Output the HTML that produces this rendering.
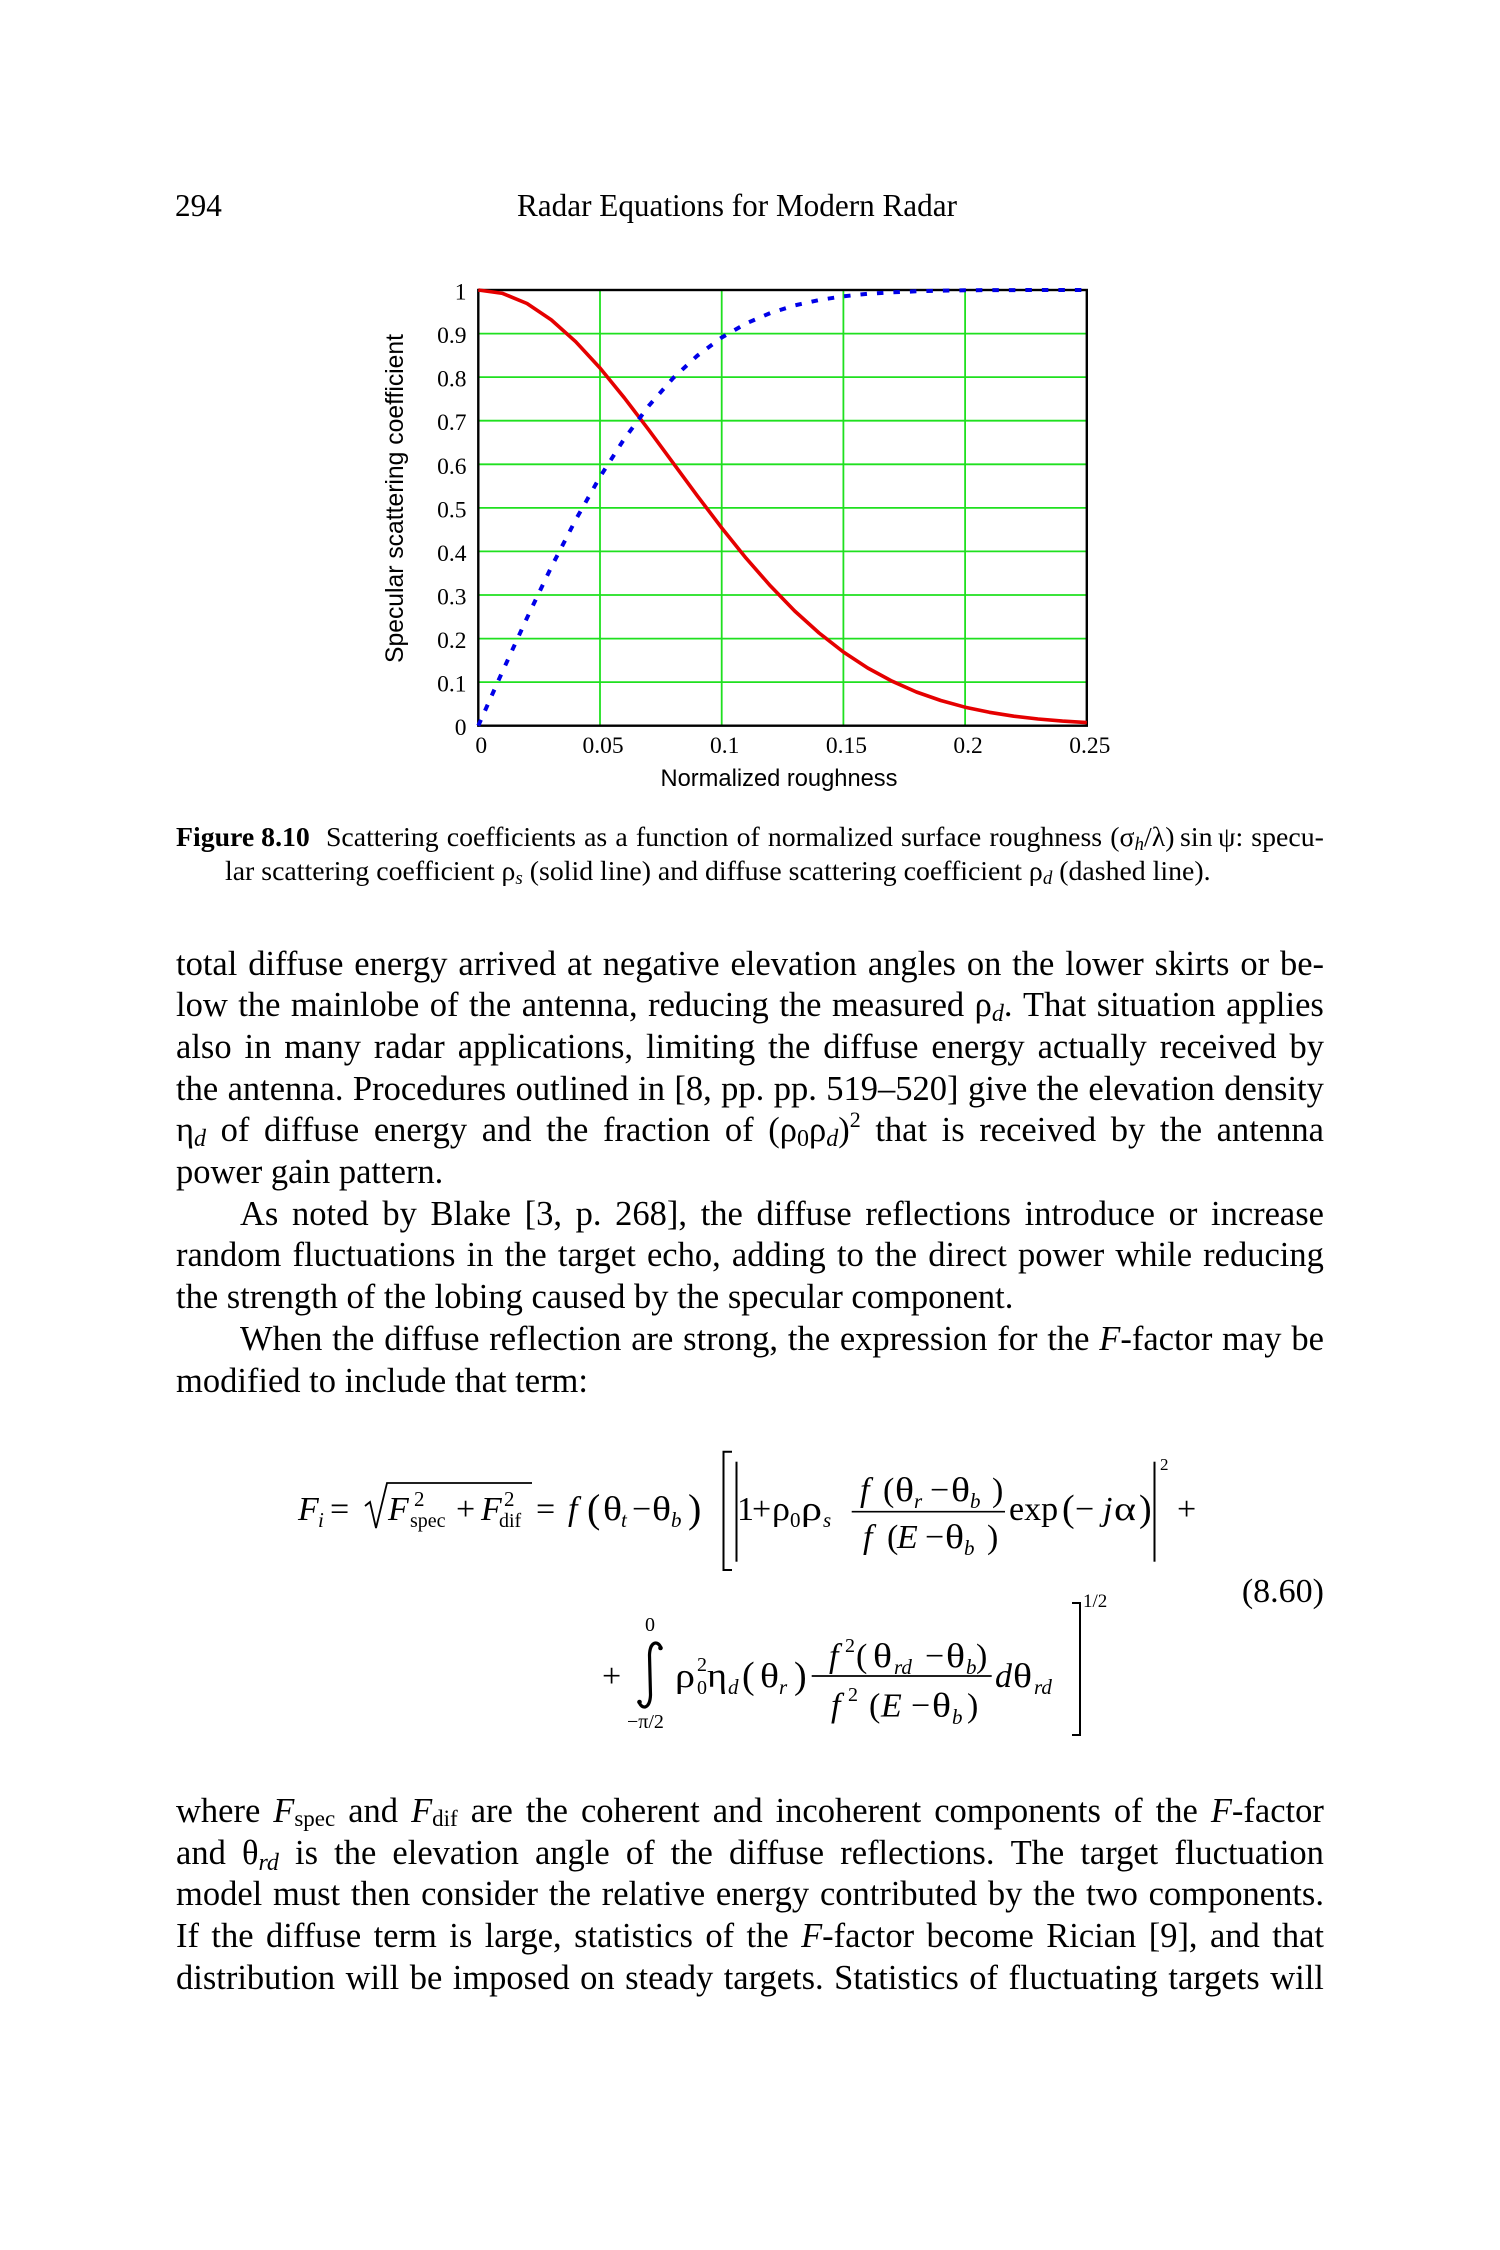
<!DOCTYPE html>
<html>
<head>
<meta charset="utf-8">
<style>
  html,body{margin:0;padding:0;background:#fff;}
  body{width:1500px;height:2250px;position:relative;overflow:hidden;}
  svg{position:absolute;left:0;top:0;}
  .t{position:absolute;font-family:"Liberation Serif","DejaVu Serif",serif;font-size:34.5px;line-height:41px;height:41px;color:#000;white-space:nowrap;}
  .j{display:flex;justify-content:space-between;left:176px;width:1148px;}
  .ji{left:240px;width:1084px;}
  .p{left:176px;}
  .c{font-size:27.8px;line-height:34px;height:34px;}
  .sb{position:relative;top:5px;font-size:24px;line-height:1;}
  .sp{position:relative;top:-14px;font-size:22px;line-height:1;}
  .cs{position:relative;top:4px;font-size:19px;line-height:1;}
  i{font-style:italic;}
</style>
</head>
<body>
<svg width="1500" height="2250" viewBox="0 0 1500 2250" xmlns="http://www.w3.org/2000/svg">
  <!-- header -->
  <g font-family="'Liberation Serif',serif" font-size="31.2" fill="#000">
    <text x="175" y="216">294</text>
    <text x="517" y="216">Radar Equations for Modern Radar</text>
  </g>

  <!-- chart grid -->
  <g stroke="#1fe01f" stroke-width="1.8">
    <line x1="600" y1="290" x2="600" y2="725.7"/>
    <line x1="721.7" y1="290" x2="721.7" y2="725.7"/>
    <line x1="843.4" y1="290" x2="843.4" y2="725.7"/>
    <line x1="965.1" y1="290" x2="965.1" y2="725.7"/>
    <line x1="478.3" y1="333.6" x2="1086.8" y2="333.6"/>
    <line x1="478.3" y1="377.1" x2="1086.8" y2="377.1"/>
    <line x1="478.3" y1="420.7" x2="1086.8" y2="420.7"/>
    <line x1="478.3" y1="464.3" x2="1086.8" y2="464.3"/>
    <line x1="478.3" y1="507.9" x2="1086.8" y2="507.9"/>
    <line x1="478.3" y1="551.4" x2="1086.8" y2="551.4"/>
    <line x1="478.3" y1="595.0" x2="1086.8" y2="595.0"/>
    <line x1="478.3" y1="638.6" x2="1086.8" y2="638.6"/>
    <line x1="478.3" y1="682.1" x2="1086.8" y2="682.1"/>
  </g>
  <rect x="478.3" y="290" width="608.5" height="435.7" fill="none" stroke="#000" stroke-width="2.4"/>

  <!-- specular (red solid) -->
  <polyline fill="none" stroke="#e50000" stroke-width="3.6" stroke-linejoin="round"
    points="478.3,290.0 502.6,293.4 527.0,303.5 551.3,319.9 575.7,341.7 600.0,368.0 624.3,397.8 648.7,429.8 673.0,462.8 697.4,495.9 721.7,527.9 746.0,558.1 770.4,585.9 794.7,611.0 819.1,633.0 843.4,652.0 867.7,668.0 892.1,681.2 916.4,692.0 940.8,700.5 965.1,707.2 989.4,712.3 1013.8,716.2 1038.1,719.0 1062.5,721.1 1086.8,722.6"/>
  <!-- diffuse (blue dashed) -->
  <polyline fill="none" stroke="#0000e8" stroke-width="4" stroke-dasharray="6.5 10"
    points="478.3,725.7 502.6,671.2 527.0,617.9 551.3,567.1 575.7,519.8 600.0,476.9 624.3,438.8 648.7,405.9 673.0,378.2 697.4,355.6 721.7,337.5 746.0,323.5 770.4,313.0 794.7,305.4 819.1,300.0 843.4,296.3 867.7,293.8 892.1,292.3 916.4,291.3 940.8,290.7 965.1,290.3 989.4,290.1 1013.8,290.1 1038.1,290.0 1062.5,290.0 1086.8,290.0"/>

  <!-- tick labels -->
  <g font-family="'Liberation Serif',serif" font-size="23.5" fill="#000" text-anchor="end">
    <text x="466.5" y="299.5">1</text>
    <text x="466.5" y="343.1">0.9</text>
    <text x="466.5" y="386.6">0.8</text>
    <text x="466.5" y="430.2">0.7</text>
    <text x="466.5" y="473.8">0.6</text>
    <text x="466.5" y="517.4">0.5</text>
    <text x="466.5" y="560.9">0.4</text>
    <text x="466.5" y="604.5">0.3</text>
    <text x="466.5" y="648.1">0.2</text>
    <text x="466.5" y="691.6">0.1</text>
    <text x="466.5" y="735.2">0</text>
  </g>
  <g font-family="'Liberation Serif',serif" font-size="23.5" fill="#000" text-anchor="middle">
    <text x="481.3" y="753">0</text>
    <text x="603" y="753">0.05</text>
    <text x="724.7" y="753">0.1</text>
    <text x="846.4" y="753">0.15</text>
    <text x="968.1" y="753">0.2</text>
    <text x="1089.8" y="753">0.25</text>
  </g>
  <text x="779" y="786" font-family="'Liberation Sans',sans-serif" font-size="24" text-anchor="middle" textLength="237" lengthAdjust="spacingAndGlyphs">Normalized roughness</text>
  <text transform="translate(403,498.5) rotate(-90)" font-family="'Liberation Sans',sans-serif" font-size="25" text-anchor="middle" textLength="329" lengthAdjust="spacingAndGlyphs">Specular scattering coefficient</text>

  <!-- equation -->
  <g font-family="'Liberation Serif',serif" font-size="34" fill="#000">
    <text x="298" y="1520" font-style="italic">F</text>
    <text x="318" y="1527" font-size="21" font-style="italic">i</text>
    <text x="330" y="1520">=</text>
    <text x="388" y="1520" font-style="italic">F</text>
    <text x="414" y="1506" font-size="21">2</text>
    <text x="410" y="1527" font-size="20">spec</text>
    <text x="456" y="1520">+</text>
    <text x="481" y="1520" font-style="italic">F</text>
    <text x="504" y="1506" font-size="21">2</text>
    <text x="499" y="1527" font-size="20">dif</text>
    <text x="536" y="1520">=</text>
    <text x="568" y="1520" font-style="italic">f</text>
    <text x="587" y="1522" font-size="40">(</text>
    <text x="603" y="1520" textLength="19" lengthAdjust="spacingAndGlyphs">θ</text>
    <text x="621" y="1527" font-size="21" font-style="italic">t</text>
    <text x="632" y="1520">−</text>
    <text x="652" y="1520" textLength="19" lengthAdjust="spacingAndGlyphs">θ</text>
    <text x="671" y="1527" font-size="21" font-style="italic">b</text>
    <text x="688" y="1522" font-size="40">)</text>
    <text x="737" y="1520">1</text>
    <text x="752" y="1520">+</text>
    <text x="772" y="1520" textLength="18" lengthAdjust="spacingAndGlyphs">ρ</text>
    <text x="790" y="1527" font-size="21">0</text>
    <text x="801" y="1520" textLength="21" lengthAdjust="spacingAndGlyphs">ρ</text>
    <text x="823" y="1527" font-size="21" font-style="italic">s</text>
    <!-- fraction 1 -->
    <text x="860" y="1501" font-style="italic">f</text>
    <text x="883" y="1501">(</text>
    <text x="895" y="1501" textLength="19" lengthAdjust="spacingAndGlyphs">θ</text>
    <text x="914" y="1508" font-size="21" font-style="italic">r</text>
    <text x="930" y="1501">−</text>
    <text x="951" y="1501" textLength="19" lengthAdjust="spacingAndGlyphs">θ</text>
    <text x="970" y="1508" font-size="21" font-style="italic">b</text>
    <text x="992" y="1501">)</text>
    <text x="863" y="1548" font-style="italic">f</text>
    <text x="887" y="1548">(</text>
    <text x="897" y="1548" font-style="italic">E</text>
    <text x="925" y="1548">−</text>
    <text x="945" y="1548" textLength="19" lengthAdjust="spacingAndGlyphs">θ</text>
    <text x="964" y="1555" font-size="21" font-style="italic">b</text>
    <text x="987" y="1548">)</text>
    <text x="1009" y="1520">exp</text>
    <text x="1062" y="1521" font-size="38">(</text>
    <text x="1075" y="1520">−</text>
    <text x="1103" y="1520" font-style="italic">j</text>
    <text x="1114" y="1520" textLength="22" lengthAdjust="spacingAndGlyphs">α</text>
    <text x="1139" y="1521" font-size="38">)</text>
    <text x="1160" y="1470" font-size="17">2</text>
    <text x="1177" y="1520">+</text>

    <!-- line 2 -->
    <text x="602" y="1687">+</text>
    <text x="645" y="1631" font-size="20">0</text>
    <text x="627" y="1728" font-size="20">−π/2</text>
    <text x="675" y="1687" textLength="20" lengthAdjust="spacingAndGlyphs">ρ</text>
    <text x="697" y="1671" font-size="20">2</text>
    <text x="697" y="1694" font-size="20">0</text>
    <text x="707" y="1687" textLength="20" lengthAdjust="spacingAndGlyphs">η</text>
    <text x="728" y="1694" font-size="21" font-style="italic">d</text>
    <text x="742" y="1688" font-size="38">(</text>
    <text x="760" y="1687" textLength="19" lengthAdjust="spacingAndGlyphs">θ</text>
    <text x="779" y="1694" font-size="21" font-style="italic">r</text>
    <text x="794" y="1688" font-size="38">)</text>
    <text x="829" y="1667" font-style="italic">f</text>
    <text x="845" y="1652" font-size="20">2</text>
    <text x="856" y="1667">(</text>
    <text x="873" y="1667" textLength="19" lengthAdjust="spacingAndGlyphs">θ</text>
    <text x="894" y="1674" font-size="21" font-style="italic">rd</text>
    <text x="925" y="1667">−</text>
    <text x="946" y="1667" textLength="19" lengthAdjust="spacingAndGlyphs">θ</text>
    <text x="966" y="1674" font-size="21" font-style="italic">b</text>
    <text x="976" y="1667">)</text>
    <text x="831" y="1716.7" font-style="italic">f</text>
    <text x="848" y="1701" font-size="20">2</text>
    <text x="869" y="1716.7">(</text>
    <text x="881" y="1716.7" font-style="italic">E</text>
    <text x="911" y="1716.7">−</text>
    <text x="932" y="1716.7" textLength="19" lengthAdjust="spacingAndGlyphs">θ</text>
    <text x="952" y="1724" font-size="21" font-style="italic">b</text>
    <text x="967" y="1716.7">)</text>
    <text x="995" y="1687" font-style="italic">d</text>
    <text x="1013" y="1687" textLength="19" lengthAdjust="spacingAndGlyphs">θ</text>
    <text x="1034" y="1694" font-size="21" font-style="italic">rd</text>
    <text x="1083" y="1607" font-size="19">1/2</text>
    <text x="1324" y="1602" text-anchor="end">(8.60)</text>
  </g>
  <g fill="none" stroke="#000">
    <path d="M365,1506 L370,1502 L376,1528 L387,1483 L532,1483" stroke-width="1.8"/>
    <path d="M732,1451.7 H723.5 V1570 H732" stroke-width="2"/>
    <path d="M736.5,1461.7 V1561.7" stroke-width="2"/>
    <path d="M1154.5,1461.7 V1561.7" stroke-width="2"/>
    <path d="M851.7,1511.7 H1005" stroke-width="1.7"/>
    <path d="M811.7,1676 H991.7" stroke-width="1.7"/>
    <path d="M1072,1603 H1080 V1735 H1072" stroke-width="2"/>
    <path d="M661,1648 C658,1640 650,1641 649.5,1655 L650.5,1695 C650,1709 642,1710 639,1702" stroke-width="3.2" stroke-linecap="round"/>
  </g>
  <circle cx="660.5" cy="1648" r="2.3" fill="#000"/>
  <circle cx="639.5" cy="1702" r="2.3" fill="#000"/>
</svg>

<!-- caption -->
<div class="t c j" style="top:820.5px;"><span style="font-weight:bold;margin-right:8px;">Figure 8.10</span><span>Scattering</span><span>coefficients</span><span>as</span><span>a</span><span>function</span><span>of</span><span>normalized</span><span>surface</span><span>roughness</span><span>(σ<i class="cs">h</i>/λ)&thinsp;sin&thinsp;ψ:</span><span>specu-</span></div>
<div class="t c" style="top:855px;left:225px;">lar scattering coefficient ρ<i class="cs">s</i> (solid line) and diffuse scattering coefficient ρ<i class="cs">d</i> (dashed line).</div>

<!-- body paragraph 1 -->
<div class="t j" style="top:943.5px;"><span>total</span><span>diffuse</span><span>energy</span><span>arrived</span><span>at</span><span>negative</span><span>elevation</span><span>angles</span><span>on</span><span>the</span><span>lower</span><span>skirts</span><span>or</span><span>be-</span></div>
<div class="t j" style="top:985.2px;"><span>low</span><span>the</span><span>mainlobe</span><span>of</span><span>the</span><span>antenna,</span><span>reducing</span><span>the</span><span>measured</span><span>ρ<i class="sb">d</i>.</span><span>That</span><span>situation</span><span>applies</span></div>
<div class="t j" style="top:1026.9px;"><span>also</span><span>in</span><span>many</span><span>radar</span><span>applications,</span><span>limiting</span><span>the</span><span>diffuse</span><span>energy</span><span>actually</span><span>received</span><span>by</span></div>
<div class="t j" style="top:1068.6px;"><span>the</span><span>antenna.</span><span>Procedures</span><span>outlined</span><span>in</span><span>[8,</span><span>pp.</span><span>pp.</span><span>519–520]</span><span>give</span><span>the</span><span>elevation</span><span>density</span></div>
<div class="t j" style="top:1110.3px;"><span>η<i class="sb">d</i></span><span>of</span><span>diffuse</span><span>energy</span><span>and</span><span>the</span><span>fraction</span><span>of</span><span>(ρ<span class="sb">0</span>ρ<i class="sb">d</i>)<span class="sp">2</span></span><span>that</span><span>is</span><span>received</span><span>by</span><span>the</span><span>antenna</span></div>
<div class="t p" style="top:1152px;">power gain pattern.</div>

<!-- paragraph 2 -->
<div class="t j ji" style="top:1193.7px;"><span>As</span><span>noted</span><span>by</span><span>Blake</span><span>[3,</span><span>p.</span><span>268],</span><span>the</span><span>diffuse</span><span>reflections</span><span>introduce</span><span>or</span><span>increase</span></div>
<div class="t j" style="top:1235.4px;"><span>random</span><span>fluctuations</span><span>in</span><span>the</span><span>target</span><span>echo,</span><span>adding</span><span>to</span><span>the</span><span>direct</span><span>power</span><span>while</span><span>reducing</span></div>
<div class="t p" style="top:1277.1px;">the strength of the lobing caused by the specular component.</div>

<!-- paragraph 3 -->
<div class="t j ji" style="top:1318.8px;"><span>When</span><span>the</span><span>diffuse</span><span>reflection</span><span>are</span><span>strong,</span><span>the</span><span>expression</span><span>for</span><span>the</span><span><i>F</i>-factor</span><span>may</span><span>be</span></div>
<div class="t p" style="top:1360.5px;">modified to include that term:</div>

<!-- after equation -->
<div class="t j" style="top:1790.9px;"><span>where</span><span><i>F</i><span class="sb" style="top:4px;font-size:23px;">spec</span></span><span>and</span><span><i>F</i><span class="sb" style="top:4px;font-size:23px;">dif</span></span><span>are</span><span>the</span><span>coherent</span><span>and</span><span>incoherent</span><span>components</span><span>of</span><span>the</span><span><i>F</i>-factor</span></div>
<div class="t j" style="top:1832.6px;"><span>and</span><span>θ<i class="sb" style="top:6px;">rd</i></span><span>is</span><span>the</span><span>elevation</span><span>angle</span><span>of</span><span>the</span><span>diffuse</span><span>reflections.</span><span>The</span><span>target</span><span>fluctuation</span></div>
<div class="t j" style="top:1874.3px;"><span>model</span><span>must</span><span>then</span><span>consider</span><span>the</span><span>relative</span><span>energy</span><span>contributed</span><span>by</span><span>the</span><span>two</span><span>components.</span></div>
<div class="t j" style="top:1916px;"><span>If</span><span>the</span><span>diffuse</span><span>term</span><span>is</span><span>large,</span><span>statistics</span><span>of</span><span>the</span><span><i>F</i>-factor</span><span>become</span><span>Rician</span><span>[9],</span><span>and</span><span>that</span></div>
<div class="t j" style="top:1957.7px;"><span>distribution</span><span>will</span><span>be</span><span>imposed</span><span>on</span><span>steady</span><span>targets.</span><span>Statistics</span><span>of</span><span>fluctuating</span><span>targets</span><span>will</span></div>
</body>
</html>
